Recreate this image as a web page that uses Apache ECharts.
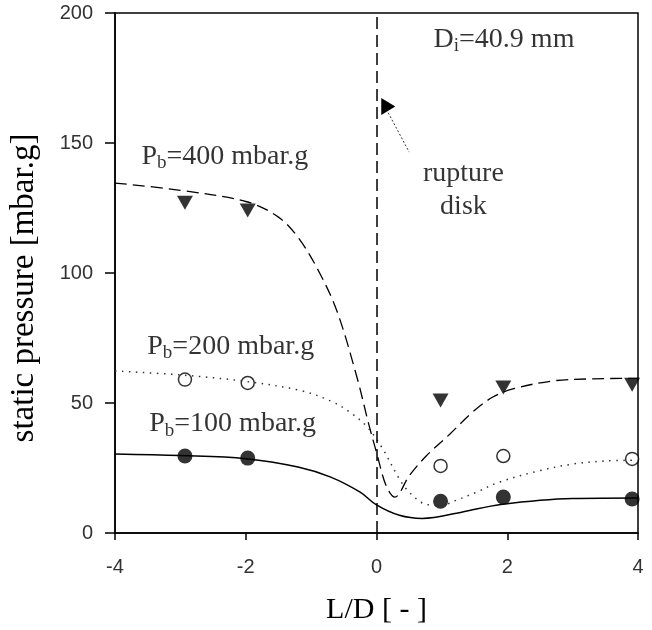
<!DOCTYPE html>
<html>
<head>
<meta charset="utf-8">
<script src="https://cdn.jsdelivr.net/npm/echarts@6/dist/echarts.min.js"></script>
<style>
  html, body { margin: 0; background: #fff; }
  #chart { width: 652px; height: 630px; }
</style>
</head>
<body>
<div id="chart"></div>
<script>
  // measured points [L/D, static pressure]
  var pts400 = [[-2.93, 127], [-1.97, 124], [0.98, 51], [1.94, 56], [3.91, 57]];
  var pts200 = [[-2.93, 59], [-1.97, 57.7], [0.98, 25.8], [1.94, 29.6], [3.91, 28.5]];
  var pts100 = [[-2.93, 29.6], [-1.97, 28.8], [0.98, 12.2], [1.94, 13.8], [3.91, 13.1]];

  // model curves
  var fit400 = [[-4, 134.6], [-3, 131.8], [-2, 127.5], [-1.5, 121.5], [-1.18, 113],
    [-0.87, 100], [-0.6, 85], [-0.3, 60], [-0.12, 42], [0, 31], [0.15, 18], [0.28, 13.8],
    [0.5, 22], [0.76, 29.6], [1.12, 38], [1.47, 46.5], [1.78, 52.3], [2.1, 55.5],
    [2.7, 58.5], [3.3, 59.3], [4, 59.5]];
  var fit200 = [[-4, 62.3], [-3, 60.8], [-2, 58.3], [-1.13, 54.6], [-0.67, 50.4], [-0.41, 46.5],
    [-0.15, 41], [0.08, 33], [0.35, 20.8], [0.5, 15.7], [0.76, 11],
    [1.0, 10.6], [1.19, 12.3], [1.53, 15.7], [1.88, 19.6], [2.5, 24], [3, 26.5],
    [3.5, 27.7], [4, 28]];
  var fit100 = [[-4, 30.4], [-3, 29.8], [-2, 28.6], [-1.2, 25.4], [-0.7, 21.5], [-0.25, 15.7],
    [0, 10.8], [0.35, 6.8], [0.7, 5.6], [1.3, 8], [1.9, 11], [3, 13.3], [4, 13.5]];

  // rupture disk marker and pointer
  var diskPos = [0];
  var arrowHead = [0.18, 164];
  var pointer = [[0.15, 163], [0.5, 146.5]];

  // text notes [x, y, text]
  var notes = [
    [-2.32, 145, '{n|P}{s|b}{n|=400 mbar.g}'],
    [-2.23, 72, '{n|P}{s|b}{n|=200 mbar.g}'],
    [-2.2, 42.3, '{n|P}{s|b}{n|=100 mbar.g}'],
    [1.95, 190, '{n|D}{s|i}{n|=40.9 mm}'],
    [1.33, 138.5, '{n|rupture}'],
    [1.33, 125.8, '{n|disk}']
  ];

  var xTicks = { min: -4, max: 4, interval: 2 };
  var yTicks = { min: 0, max: 200, interval: 50 };

  var serif = '"Liberation Serif", "DejaVu Serif", serif';
  var sans = '"Liberation Sans", Arial, sans-serif';

  var chart = echarts.init(document.getElementById('chart'));

  chart.setOption({
    animation: false,
    backgroundColor: '#fff',
    grid: {
      left: 115, right: 14, top: 13, bottom: 96,
      show: true, borderColor: '#000', borderWidth: 1.5
    },
    xAxis: {
      type: 'value',
      min: xTicks.min, max: xTicks.max, interval: xTicks.interval,
      name: 'L/D [ - ]',
      nameLocation: 'middle',
      nameGap: 62,
      nameTextStyle: { fontFamily: serif, fontSize: 30, color: '#000' },
      axisLine: { onZero: false, lineStyle: { color: '#000', width: 1.5 } },
      axisTick: { show: true, length: 7, lineStyle: { color: '#000', width: 1.5 } },
      axisLabel: { margin: 24, fontFamily: sans, fontSize: 20, color: '#333' },
      splitLine: { show: false }
    },
    yAxis: {
      type: 'value',
      min: yTicks.min, max: yTicks.max, interval: yTicks.interval,
      name: 'static pressure [mbar.g]',
      nameLocation: 'middle',
      nameGap: 74,
      nameTextStyle: { fontFamily: serif, fontSize: 33, color: '#000', padding: [0, 30, 0, 0] },
      axisLine: { onZero: false, lineStyle: { color: '#000', width: 1.5 } },
      axisTick: { show: true, length: 10, lineStyle: { color: '#000', width: 1.5 } },
      axisLabel: { margin: 22, fontFamily: sans, fontSize: 20, color: '#333' },
      splitLine: { show: false }
    },
    series: [
      {
        type: 'line', data: fit400, smooth: 0.35, symbol: 'none',
        lineStyle: { color: '#000', width: 1.3, type: [12, 6] },
        markLine: {
          silent: true, symbol: 'none', label: { show: false },
          lineStyle: { color: '#000', width: 1.5, type: [12, 6] },
          data: diskPos.map(function (v) { return { xAxis: v }; })
        },
        markPoint: {
          silent: true,
          data: [{ coord: arrowHead, symbol: 'triangle', symbolSize: [17, 14], symbolRotate: -90,
            itemStyle: { color: '#000' }, label: { show: false } }]
        }
      },
      {
        type: 'line', data: fit200, smooth: 0.35, symbol: 'none',
        lineStyle: { color: '#333', width: 1.5, type: [1.5, 5.5] }
      },
      {
        type: 'line', data: fit100, smooth: 0.35, symbol: 'none',
        lineStyle: { color: '#000', width: 1.5 }
      },
      {
        type: 'line', data: pointer, symbol: 'none',
        lineStyle: { color: '#333', width: 1, type: [2, 2] }
      },
      {
        type: 'scatter', data: pts400, symbol: 'triangle', symbolRotate: 180, symbolSize: [16, 14],
        itemStyle: { color: '#000' }
      },
      {
        type: 'scatter', data: pts200, symbol: 'circle', symbolSize: 13,
        itemStyle: { color: '#fff', borderColor: '#000', borderWidth: 1.5 }
      },
      {
        type: 'scatter', data: pts100, symbol: 'circle', symbolSize: 15,
        itemStyle: { color: '#000' }
      },
      {
        type: 'scatter', symbolSize: 0.01, silent: true,
        data: notes.map(function (n) {
          return { value: [n[0], n[1]], label: { formatter: n[2] } };
        }),
        label: {
          show: true, position: 'inside',
          rich: {
            n: { fontFamily: serif, fontSize: 28, color: '#000', lineHeight: 30, verticalAlign: 'bottom' },
            s: { fontFamily: serif, fontSize: 19, color: '#000', lineHeight: 19, verticalAlign: 'bottom', padding: [0, 0, -2, 0] }
          }
        }
      }
    ]
  });
</script>
</body>
</html>
